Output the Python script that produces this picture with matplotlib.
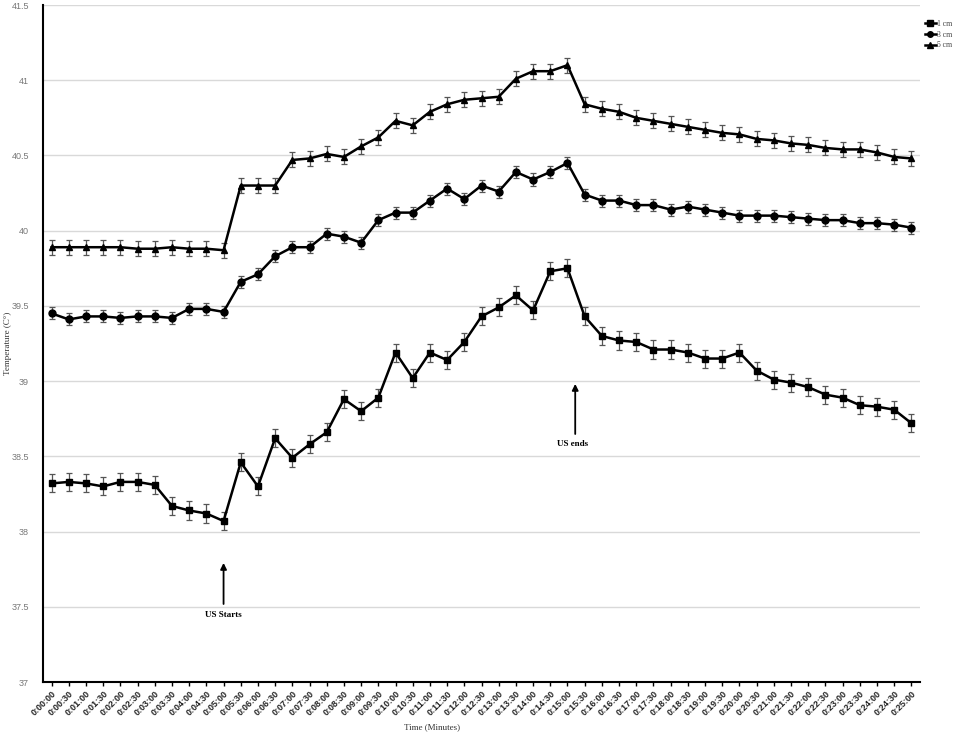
import numpy as np
import matplotlib.pyplot as plt

# time labels every 30 s
times = ['0:%02d:%02d' % (s // 60, s % 60) for s in range(0, 25 * 60 + 1, 30)]

cm1 = [38.32, 38.33, 38.32, 38.30, 38.33, 38.33, 38.31, 38.17, 38.14, 38.12,
       38.07, 38.46, 38.30, 38.62, 38.49, 38.58, 38.66, 38.88, 38.80, 38.89,
       39.19, 39.02, 39.19, 39.14, 39.26, 39.43, 39.49, 39.57, 39.47, 39.73,
       39.75, 39.43, 39.30, 39.27, 39.26, 39.21, 39.21, 39.19, 39.15, 39.15,
       39.19, 39.07, 39.01, 38.99, 38.96, 38.91, 38.89, 38.84, 38.83, 38.81,
       38.72]
cm3 = [39.45, 39.41, 39.43, 39.43, 39.42, 39.43, 39.43, 39.42, 39.48, 39.48,
       39.46, 39.66, 39.71, 39.83, 39.89, 39.89, 39.98, 39.96, 39.92, 40.07,
       40.12, 40.12, 40.20, 40.28, 40.21, 40.30, 40.26, 40.39, 40.34, 40.39,
       40.45, 40.24, 40.20, 40.20, 40.17, 40.17, 40.14, 40.16, 40.14, 40.12,
       40.10, 40.10, 40.10, 40.09, 40.08, 40.07, 40.07, 40.05, 40.05, 40.04,
       40.02]
cm5 = [39.89, 39.89, 39.89, 39.89, 39.89, 39.88, 39.88, 39.89, 39.88, 39.88,
       39.87, 40.30, 40.30, 40.30, 40.47, 40.48, 40.51, 40.49, 40.56, 40.62,
       40.73, 40.70, 40.79, 40.84, 40.87, 40.88, 40.89, 41.01, 41.06, 41.06,
       41.10, 40.84, 40.81, 40.79, 40.75, 40.73, 40.71, 40.69, 40.67, 40.65,
       40.64, 40.61, 40.60, 40.58, 40.57, 40.55, 40.54, 40.54, 40.52, 40.49,
       40.48]
err1 = [0.06] * len(cm1)
err3 = [0.04] * len(cm3)
err5 = [0.05] * len(cm5)

serif = 'Liberation Serif'
sans = 'Liberation Sans'

fig = plt.figure(figsize=(9.57, 7.35), dpi=100)
ax = fig.add_axes([43 / 957, 1 - 682 / 735, 877 / 957, 677 / 735])

x = np.arange(len(times))
series = [(cm1, err1, 's', '1 cm'), (cm3, err3, 'o', '3 cm'), (cm5, err5, '^', '5 cm')]
for vals, err, mk, lab in series:
    ax.errorbar(x, vals, yerr=err, fmt='none', ecolor='#555555', elinewidth=0.9,
                capsize=2, capthick=0.9, zorder=2)
    ax.plot(x, vals, color='black', linewidth=1.8, marker=mk, markersize=5,
            label=lab, zorder=3)

ax.set_xlim(-0.5, len(times) - 0.5)
ax.set_ylim(37, 41.5)
ax.set_yticks(np.arange(37, 41.51, 0.5))
ax.set_yticklabels(['37', '37.5', '38', '38.5', '39', '39.5', '40', '40.5', '41', '41.5'],
                   fontsize=6.5, color='#777777', family=sans)
ax.tick_params(axis='y', length=0, pad=10)
ax.set_xticks(x)
ax.set_xticklabels(times, rotation=45, ha='right', rotation_mode='anchor',
                   fontsize=6.5, fontweight='bold', color='#222222', family=sans)
ax.tick_params(axis='x', length=3, width=1, pad=2)
ax.yaxis.grid(True, color='#d9d9d9', linewidth=1)
ax.set_axisbelow(True)
for s in ['top', 'right']:
    ax.spines[s].set_visible(False)
ax.spines['left'].set_linewidth(1.5)
ax.spines['bottom'].set_linewidth(1.5)

ax.set_xlabel('Time (Minutes)', fontsize=6.5, family=serif, color='#333333')
ax.xaxis.set_label_coords(0.444, -41 / 677)
ax.set_ylabel('Temperature (C°)', fontsize=6.5, family=serif, color='#333333')
ax.yaxis.set_label_coords(-31 / 877, 0.5)

# ultrasound start/end markers
ax.annotate('', xy=(10, 37.81), xytext=(10, 37.5),
            arrowprops=dict(arrowstyle='-|>', color='black', lw=1.3, mutation_scale=9))
ax.text(10, 37.47, 'US Starts', ha='center', va='top', fontsize=6.5,
        fontweight='bold', family=serif)
ax.annotate('', xy=(30.45, 39.0), xytext=(30.45, 38.63),
            arrowprops=dict(arrowstyle='-|>', color='black', lw=1.3, mutation_scale=9))
ax.text(30.3, 38.61, 'US ends', ha='center', va='top', fontsize=6.5,
        fontweight='bold', family=serif)

leg = ax.legend(loc='upper right', bbox_to_anchor=(1.045, 0.988), frameon=False,
                prop={'family': serif, 'size': 5.5}, handlelength=1.4,
                handletextpad=0.2, labelspacing=0.35, markerscale=0.8)
for t in leg.get_texts():
    t.set_color('#444444')

fig.savefig('out.png', dpi=100)
